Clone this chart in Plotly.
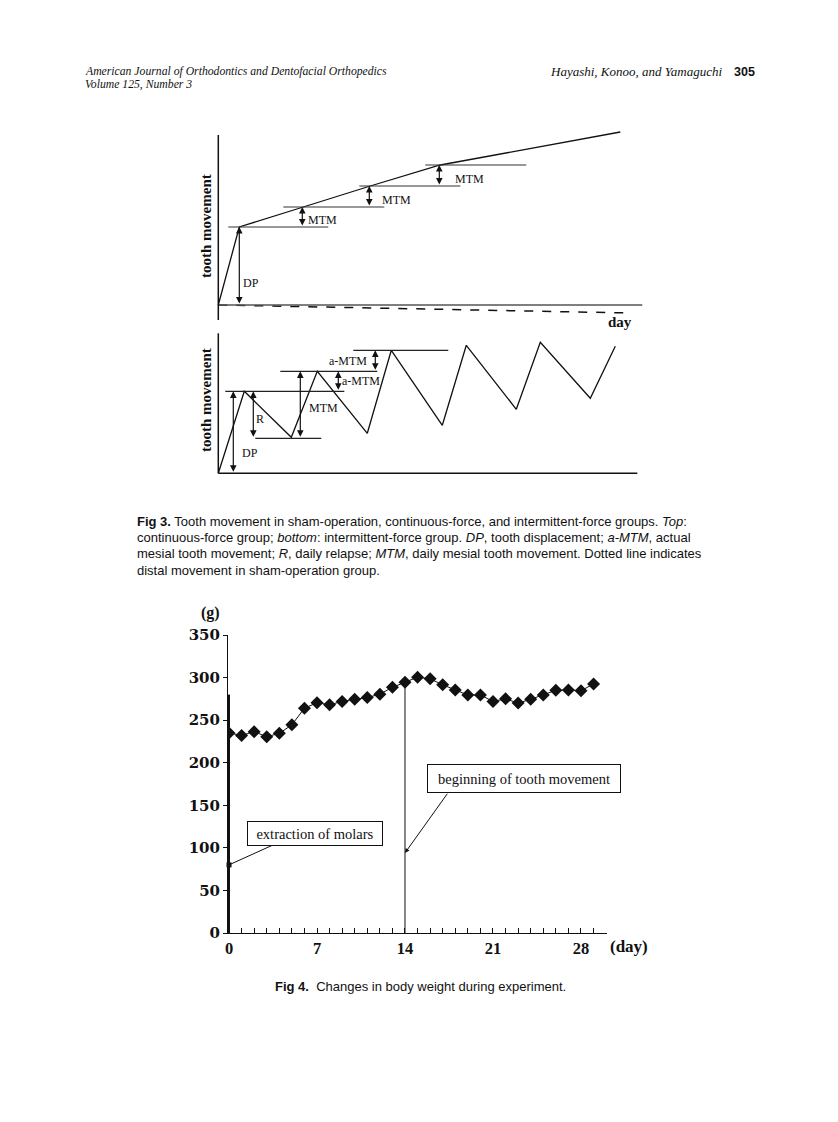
import plotly.graph_objects as go

W, H = 838, 1122
PAGE_OFFSET = 8  # browser body margin

# ---------------- Fig 4 data (body weight) ----------------
days = list(range(30))
weight_g = [235, 232, 236.5, 230.5, 234.5, 244.5, 264, 270.5, 268, 272, 274.5, 276.5, 280.5, 288.5, 294.5,
            300.5, 298.5, 291.5, 285.5, 279.5, 279.5, 272, 275, 270, 274.5, 279.5, 285, 285.5, 284.5, 292.5]
x_tick_vals = [0, 7, 14, 21, 28]
y_tick_vals = [0, 50, 100, 150, 200, 250, 300, 350]
event_days = [0, 14]
event_marks = [80, 94]
event_labels = ["extraction of molars", "beginning of tooth movement"]
arrow_tail_days = [3.8, 17.45]
arrow_tail_vals = [105.4, 165.3]

# ---------------- Fig 3 schematic data ----------------
# top: continuous-force group
cont_x = [0, 2.1, 8.5, 15.2, 22.2, 40.2]
cont_y = [0, 7.8, 9.8, 11.9, 14.0, 17.3]
sham_x = [0, 41.2]
sham_y = [0, -0.8]
top_levels = [7.8, 9.8, 11.9, 14.0]
top_level_x0 = [1.0, 6.5, 14.1, 20.7]
top_level_x1 = [11.0, 16.6, 24.2, 30.8]
top_arrow_x = [2.1, 8.4, 15.1, 22.1]
top_arrow_y0 = [0, 7.8, 9.8, 11.9]
top_arrow_y1 = [7.8, 9.8, 11.9, 14.0]
top_labels = ["DP", "MTM", "MTM", "MTM"]
top_label_x = [3.3, 10.4, 17.8, 25.1]
top_label_y = [2.2, 8.5, 10.5, 12.6]

# bottom: intermittent-force group
zig_x = [0, 2.6, 7.3, 9.9, 14.9, 17.3, 22.4, 24.8, 29.8, 32.2, 37.2, 39.7]
zig_y = [0, 8.2, 3.6, 10.2, 4.0, 12.3, 4.8, 12.8, 6.4, 13.1, 7.5, 12.7]
bot_levels = [8.2, 3.5, 10.2, 12.3]
bot_level_x0 = [0.7, 3.7, 6.2, 13.5]
bot_level_x1 = [12.6, 10.3, 15.9, 23.0]
bot_arrow_x = [1.5, 3.5, 8.2, 12.0, 15.7]
bot_arrow_y0 = [0, 3.5, 3.5, 8.2, 10.2]
bot_arrow_y1 = [8.2, 8.2, 10.2, 10.2, 12.3]
bot_labels = ["DP", "R", "MTM", "a-MTM", "a-MTM"]
bot_label_x = [3.2, 4.2, 10.5, 14.3, 13.0]
bot_label_y = [2.0, 5.4, 6.5, 9.2, 11.2]


def px(x):
    return (x - PAGE_OFFSET) / W


def py(y):
    return 1 - (y - PAGE_OFFSET) / H


SERIF = "Liberation Serif"
SANS = "Liberation Sans"
INK = "#111111"

fig = go.Figure()

# ---------- Fig 3 top ----------
fig.add_trace(go.Scatter(x=cont_x, y=cont_y, mode="lines", line=dict(color=INK, width=1.3),
                         xaxis="x", yaxis="y", showlegend=False, hoverinfo="skip"))
fig.add_trace(go.Scatter(x=sham_x, y=sham_y, mode="lines", line=dict(color=INK, width=1.5, dash="dash"),
                         xaxis="x", yaxis="y", showlegend=False, hoverinfo="skip"))
for lv, a, b in zip(top_levels, top_level_x0, top_level_x1):
    fig.add_trace(go.Scatter(x=[a, b], y=[lv, lv], mode="lines", line=dict(color="#333333", width=1.2),
                             xaxis="x", yaxis="y", showlegend=False, hoverinfo="skip"))

# ---------- Fig 3 bottom ----------
fig.add_trace(go.Scatter(x=zig_x, y=zig_y, mode="lines", line=dict(color=INK, width=1.3),
                         xaxis="x2", yaxis="y2", showlegend=False, hoverinfo="skip"))
for lv, a, b in zip(bot_levels, bot_level_x0, bot_level_x1):
    fig.add_trace(go.Scatter(x=[a, b], y=[lv, lv], mode="lines", line=dict(color="#222222", width=1.3),
                             xaxis="x2", yaxis="y2", showlegend=False, hoverinfo="skip"))

# ---------- Fig 4 ----------
fig.add_trace(go.Scatter(x=[event_days[1], event_days[1]], y=[0, weight_g[event_days[1]]], mode="lines",
                         line=dict(color=INK, width=1), xaxis="x3", yaxis="y3",
                         showlegend=False, hoverinfo="skip"))
fig.add_trace(go.Scatter(x=days, y=weight_g, mode="lines+markers",
                         line=dict(color=INK, width=1),
                         marker=dict(symbol="diamond", size=10, color=INK),
                         xaxis="x3", yaxis="y3", showlegend=False))
fig.add_trace(go.Scatter(x=[event_days[0]], y=[event_marks[0]], mode="markers",
                         marker=dict(symbol="square", size=5, color=INK),
                         xaxis="x3", yaxis="y3", showlegend=False, hoverinfo="skip", cliponaxis=False))

shapes = []
shapes.append(dict(type="line", xref="x", yref="y", x0=0, x1=42.4, y0=0, y1=0, line=dict(color="#555555", width=1.5)))
shapes.append(dict(type="line", xref="x", yref="y", x0=0, x1=0, y0=-1.5, y1=17.0, line=dict(color=INK, width=1.5)))
shapes.append(dict(type="line", xref="x2", yref="y2", x0=0, x1=41.9, y0=0, y1=0, line=dict(color=INK, width=1.5)))
shapes.append(dict(type="line", xref="x2", yref="y2", x0=0, x1=0, y0=0, y1=14.0, line=dict(color=INK, width=1.5)))
shapes.append(dict(type="line", xref="x3", yref="y3", x0=0, x1=0, y0=0, y1=280, line=dict(color=INK, width=2)))

annotations = []


def dbl_arrow(xr, yr, x, y0, y1):
    return dict(x=x, y=y1, ax=x, ay=y0, xref=xr, yref=yr, axref=xr, ayref=yr, text="",
                showarrow=True, arrowhead=2, arrowside="end+start", arrowsize=1.1, arrowwidth=1.2,
                arrowcolor=INK, standoff=0, startstandoff=0)


def ptext(x, y, text, size, family=SERIF, xanchor="center", **kw):
    return dict(x=px(x), y=py(y), xref="paper", yref="paper", text=text, showarrow=False,
                xanchor=xanchor, yanchor="middle", font=dict(family=family, size=size, color=INK), **kw)


for x, a, b in zip(top_arrow_x, top_arrow_y0, top_arrow_y1):
    annotations.append(dbl_arrow("x", "y", x, a, b))
for t, x, y in zip(top_labels, top_label_x, top_label_y):
    annotations.append(dict(x=x, y=y, xref="x", yref="y", text=t, showarrow=False,
                            xanchor="center", yanchor="middle",
                            font=dict(family=SERIF, size=12, color=INK)))
for x, a, b in zip(bot_arrow_x, bot_arrow_y0, bot_arrow_y1):
    annotations.append(dbl_arrow("x2", "y2", x, a, b))
for t, x, y in zip(bot_labels, bot_label_x, bot_label_y):
    annotations.append(dict(x=x, y=y, xref="x2", yref="y2", text=t, showarrow=False,
                            xanchor="center", yanchor="middle",
                            font=dict(family=SERIF, size=12, color=INK)))

for xr, yr, x, y in [("x", "y", 40.2, -1.7), ("x2", "y2", 40.6, -1.6)]:
    annotations.append(dict(x=x, y=y, xref=xr, yref=yr, text="<b>day</b>", showarrow=False,
                            xanchor="center", yanchor="middle",
                            font=dict(family=SERIF, size=15, color=INK)))
for yy in [226, 400]:
    annotations.append(ptext(206, yy, "<b>tooth movement</b>", 15, textangle=-90))

# Fig 4 event arrows and boxes
annotations.append(dict(x=event_days[0], y=event_marks[0], ax=arrow_tail_days[0], ay=arrow_tail_vals[0],
                        xref="x3", yref="y3", axref="x3", ayref="y3", text="", showarrow=True,
                        arrowhead=0, arrowwidth=1, arrowcolor=INK, standoff=0))
annotations.append(dict(x=event_days[1], y=event_marks[1], ax=arrow_tail_days[1], ay=arrow_tail_vals[1],
                        xref="x3", yref="y3", axref="x3", ayref="y3", text="", showarrow=True,
                        arrowhead=2, arrowsize=0.9, arrowwidth=1, arrowcolor=INK, standoff=0))
annotations.append(ptext(315, 833, event_labels[0], 14.5, bordercolor=INK, borderwidth=1, borderpad=3,
                         bgcolor="white", width=128, height=17))
annotations.append(ptext(523.5, 778, event_labels[1], 14.5, bordercolor=INK, borderwidth=1, borderpad=4,
                         bgcolor="white", width=184, height=19))
annotations.append(ptext(210, 613, "<b>(g)</b>", 16))
annotations.append(ptext(629, 946, "<b>(day)</b>", 17))

# Page header
annotations.append(ptext(83, 72, "<i>American Journal of Orthodontics and Dentofacial Orthopedics</i>", 11.7,
                         xanchor="left"))
annotations.append(ptext(83, 85, "<i>Volume 125, Number 3</i>", 11.7, xanchor="left"))
annotations.append(ptext(724, 72, "<i>Hayashi, Konoo, and Yamaguchi</i>", 13, xanchor="right"))
annotations.append(ptext(732, 72, "<b>305</b>", 12.5, family=SANS, xanchor="left"))

# Captions
cap3 = [
    "<b>Fig 3.</b> Tooth movement in sham-operation, continuous-force, and intermittent-force groups. <i>Top</i>:",
    "continuous-force group; <i>bottom</i>: intermittent-force group. <i>DP</i>, tooth displacement; <i>a-MTM</i>, actual",
    "mesial tooth movement; <i>R</i>, daily relapse; <i>MTM</i>, daily mesial tooth movement. Dotted line indicates",
    "distal movement in sham-operation group.",
]
for i, line in enumerate(cap3):
    annotations.append(ptext(135, 521 + i * 16.4, line, 13, family=SANS, xanchor="left"))
annotations.append(ptext(420, 986, "<b>Fig 4.</b>  Changes in body weight during experiment.", 13, family=SANS))

hidden = dict(visible=False, showgrid=False, zeroline=False, automargin=False)
fig.update_layout(
    template="none",
    width=W, height=H, autosize=False,
    margin=dict(l=0, r=0, t=0, b=0, pad=0, autoexpand=False),
    paper_bgcolor="white", plot_bgcolor="rgba(0,0,0,0)",
    showlegend=False,
    xaxis=dict(domain=[px(210), px(650)], range=[-0.83, 43.17], anchor="y", **hidden),
    yaxis=dict(domain=[py(325), py(125)], range=[-2.0, 18.0], anchor="x", **hidden),
    xaxis2=dict(domain=[px(210), px(650)], range=[-0.83, 43.17], anchor="y2", **hidden),
    yaxis2=dict(domain=[py(480), py(328)], range=[-0.67, 14.53], anchor="x2", **hidden),
    xaxis3=dict(domain=[px(228), px(607)], range=[-0.08, 30.07], anchor="y3", automargin=False,
                showline=True, linecolor=INK, linewidth=1, showgrid=False, zeroline=False,
                ticks="inside", ticklen=5, tickcolor=INK, tickvals=x_tick_vals,
                ticktext=[f"<b>{v}</b>" for v in x_tick_vals],
                tickfont=dict(family=SERIF, size=16.5, color=INK),
                minor=dict(ticks="inside", ticklen=5, dtick=1, tick0=0, tickcolor=INK, showgrid=False)),
    yaxis3=dict(domain=[py(933), py(635)], range=[0, 350], anchor="x3", automargin=False,
                showline=True, linecolor=INK, linewidth=1, showgrid=False, zeroline=False,
                ticks="outside", ticklen=4, tickcolor=INK, tickvals=y_tick_vals,
                ticktext=[f"<b>{v}</b>" for v in y_tick_vals],
                tickfont=dict(family="DejaVu Serif", size=15, color=INK)),
    shapes=shapes,
    annotations=annotations,
)

fig.write_html("out.html")
